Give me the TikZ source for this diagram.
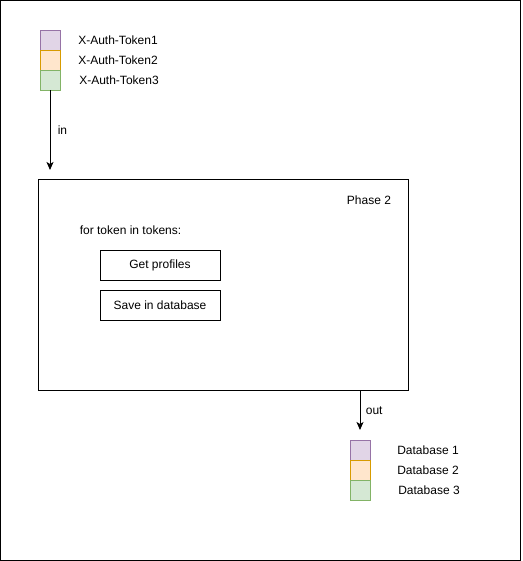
\documentclass[tikz,border=0pt]{standalone}
\usepackage{fontspec}
\setmainfont{Liberation Sans}
\usetikzlibrary{arrows.meta}
\definecolor{lilacfill}{HTML}{E1D5E7}
\definecolor{lilacdraw}{HTML}{9673A6}
\definecolor{orangefill}{HTML}{FFE6CC}
\definecolor{orangedraw}{HTML}{D79B00}
\definecolor{greenfill}{HTML}{D5E8D4}
\definecolor{greendraw}{HTML}{82B366}
\begin{document}
\begin{tikzpicture}[x=1pt, y=-1pt, line width=1pt, font=\fontsize{12}{14}\selectfont,
	cell/.style={draw, minimum size=20pt, inner sep=0pt, line width=0.9pt},
	stepbox/.style={draw, minimum width=120pt, minimum height=30pt, inner sep=0pt},
	arr/.style={-{Stealth[length=8pt, width=7pt, inset=2pt]}}]
			\useasboundingbox (0,0) rectangle (522,561);
			\draw (0.5,0.5) rectangle (520.5,560);
			% tokens
			\node[cell, fill=lilacfill, draw=lilacdraw] (t1) at (50,40) {};
			\node[cell, fill=orangefill, draw=orangedraw] (t2) at (50,60) {};
			\node[cell, fill=greenfill, draw=greendraw] (t3) at (50,80) {};
			\node (tl1) at (118,40) {X-Auth-Token1};
			\node (tl2) at (118,60) {X-Auth-Token2};
			\node (tl3) at (119,80) {X-Auth-Token3};
			% phase 2
			\node[draw, minimum width=370pt, minimum height=210pt, inner sep=0pt] (phase) at (223,285) {};
			\node (title) at (369,200) {Phase 2};
			\node (loop) at (130.5,230) {for token in tokens:};
			\node[stepbox] (get) at (160,265) {Get profiles};
			\node[stepbox] (save) at (160,305) {Save in database};
			% databases
			\node[cell, fill=lilacfill, draw=lilacdraw] (d1) at (360,450) {};
			\node[cell, fill=orangefill, draw=orangedraw] (d2) at (360,470) {};
			\node[cell, fill=greenfill, draw=greendraw] (d3) at (360,490) {};
			\node (dl1) at (428,450) {Database 1};
			\node (dl2) at (428,470) {Database 2};
			\node (dl3) at (429,490) {Database 3};
			% arrows
			\coordinate (inend) at (50,170);
			\coordinate (outend) at (360,430);
			\draw[arr] (t3.south) -- node[right=4pt] {in} (inend);
			\draw[arr] (phase.south -| d1.center) -- node[right=2pt] {out} (outend);
		\end{tikzpicture}
\end{document}
